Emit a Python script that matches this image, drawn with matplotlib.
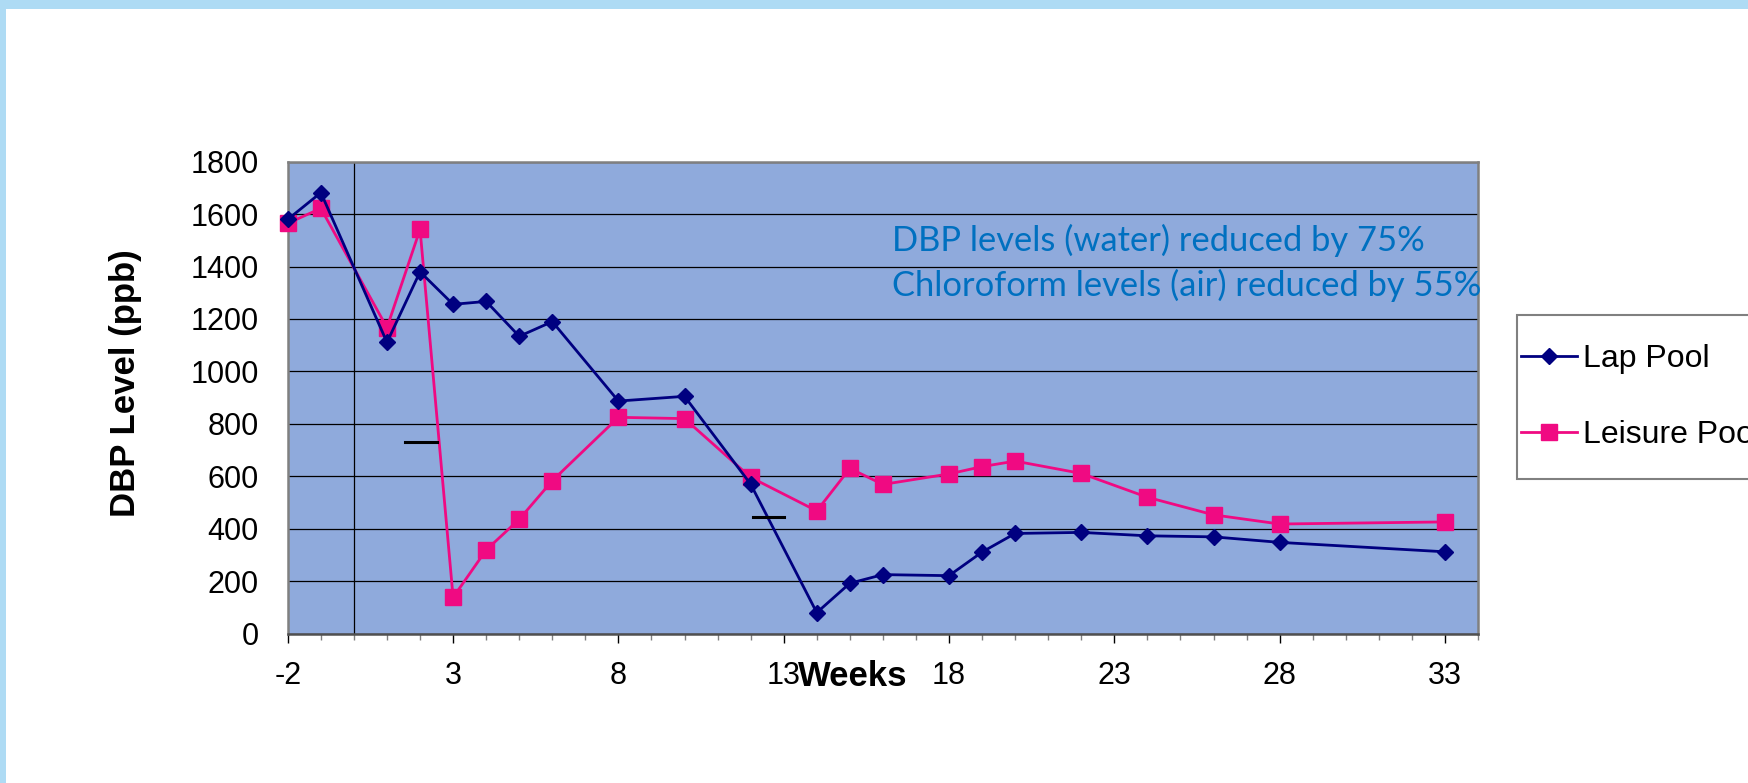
import matplotlib
matplotlib.use("Agg")
import matplotlib.pyplot as plt
from matplotlib.patches import Rectangle
from matplotlib.ticker import MultipleLocator, FixedLocator

plt.rcParams["font.family"] = ["Liberation Sans", "DejaVu Sans"]
plt.rcParams["axes.unicode_minus"] = False

# data
weeks = [-2, -1, 1, 2, 3, 4, 5, 6, 8, 10, 12, 14, 15, 16, 18, 19, 20, 22, 24, 26, 28, 33]
lap_pool = [1580, 1682, 1111, 1380, 1256, 1267, 1134, 1190, 887, 905, 570, 80,
            192, 225, 221, 311, 382, 386, 373, 369, 348, 312]
leisure_pool = [1565, 1622, 1167, 1542, 138, 319, 436, 583, 825, 820, 596, 468,
                630, 569, 609, 637, 658, 611, 520, 453, 418, 426]
series_names = ["Lap Pool", "Leisure Pool"]

# two short black dashes drawn on the chart
dash_x = [[1.55, 2.51], [12.08, 13.02]]
dash_y = [[730, 730], [445, 445]]

note_lines = ["DBP levels (water) reduced by 75%",
              "Chloroform levels (air) reduced by 55%"]

W, H = 1749, 783
fig = plt.figure(figsize=(W / 100, H / 100), dpi=100)
fig.patch.set_facecolor("#AEDBF4")
fig.patches.append(Rectangle((5.7 / W, 0), 1, 1 - 9 / H, transform=fig.transFigure,
                             facecolor="white", edgecolor="none", zorder=-10))

ax = fig.add_axes([287.8 / W, 1 - 633.6 / H, (1478 - 287.8) / W, (633.6 - 161.7) / H])
ax.set_facecolor("#8FAADC")

ax.plot(weeks, lap_pool, color="#000080", lw=2.0, marker="D", ms=8,
        label=series_names[0], zorder=4, clip_on=False)
ax.plot(weeks, leisure_pool, color="#F00A82", lw=2.0, marker="s", ms=11,
        label=series_names[1], zorder=3, clip_on=False)

for xs, ys in zip(dash_x, dash_y):
    ax.plot(xs, ys, color="black", lw=2.2, zorder=5)

ax.axvline(0, color="black", lw=0.9, zorder=2)

ax.set_xlim(-2, 34)
ax.set_ylim(0, 1800)
ax.yaxis.set_major_locator(MultipleLocator(200))
ax.xaxis.set_major_locator(FixedLocator(list(range(-2, 34, 5))))
ax.xaxis.set_minor_locator(MultipleLocator(1))
ax.grid(axis="y", color="black", lw=0.9, zorder=1)
ax.set_axisbelow(True)

ax.tick_params(axis="y", length=0, pad=21, labelsize=22)
ax.tick_params(axis="x", which="major", direction="out", length=6.5, width=1,
               pad=13, labelsize=22)
ax.tick_params(axis="x", which="minor", direction="out", length=4, width=1,
               color="#808080")

for side in ["left", "right", "top", "bottom"]:
    ax.spines[side].set_color("#808080")
    ax.spines[side].set_linewidth(1.8)
ax.spines["bottom"].set_color("#505050")

ax.set_xlabel("Weeks", fontsize=25, fontweight="bold", va="center")
ax.xaxis.set_label_coords(0.475, -0.091)
ax.set_ylabel("DBP Level (ppb)", fontsize=25, fontweight="bold", va="center")
ax.yaxis.set_label_coords(-0.136, 0.531)

ax.text(16.29, 1460, note_lines[0], color="#0070C0", fontsize=24.8,
        family=["Lato", "DejaVu Sans"], va="baseline", ha="left", clip_on=False)
ax.text(16.29, 1289, note_lines[1], color="#0070C0", fontsize=24.8,
        family=["Lato", "DejaVu Sans"], va="baseline", ha="left", clip_on=False)

# legend box (runs off the right edge like the original)
fig.patches.append(Rectangle((1517 / W, 1 - 479 / H), 300 / W, (479 - 315) / H,
                             transform=fig.transFigure, facecolor="white",
                             edgecolor="#808080", lw=1.5, zorder=1))
fig.legend(loc="center left", bbox_to_anchor=(1521 / W, 1 - 397 / H),
           frameon=False, fontsize=23, handlelength=1.75, handletextpad=0.2,
           labelspacing=1.45, borderpad=0, borderaxespad=0)

fig.savefig("out.png", dpi=100)
